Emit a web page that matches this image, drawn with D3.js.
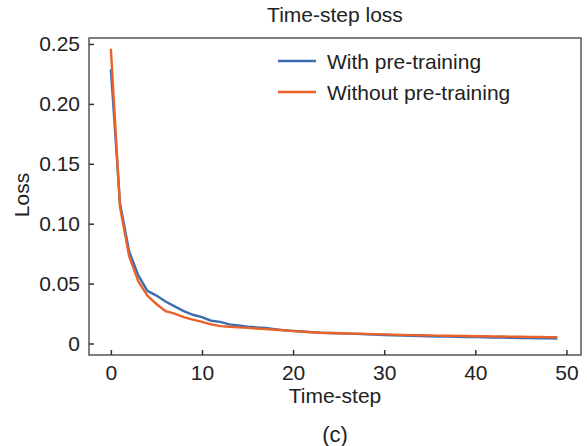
<!DOCTYPE html>
<html>
<head>
<meta charset="utf-8">
<script src="https://cdn.jsdelivr.net/npm/d3@7"></script>
<style>
  body { margin: 0; background: #fff; }
  text { font-family: "Liberation Sans", Arial, sans-serif; fill: #222; }
</style>
</head>
<body>
<div id="chart"></div>
<script>
// time-step loss values
const steps = d3.range(0, 50);
const withPre = [0.229, 0.117, 0.077, 0.057, 0.044, 0.040, 0.035, 0.031, 0.027, 0.024,
  0.022, 0.019, 0.018, 0.016, 0.015, 0.014, 0.0135, 0.013, 0.012, 0.011,
  0.0105, 0.010, 0.0095, 0.009, 0.0088, 0.0085, 0.0082, 0.008, 0.0077, 0.0074,
  0.0071, 0.0069, 0.0067, 0.0065, 0.0063, 0.0061, 0.0059, 0.0057, 0.0056, 0.0054,
  0.0053, 0.0051, 0.005, 0.0049, 0.0047, 0.0046, 0.0045, 0.0044, 0.0043, 0.0042];
const withoutPre = [0.246, 0.114, 0.073, 0.052, 0.040, 0.033, 0.027, 0.025, 0.022, 0.020,
  0.018, 0.016, 0.0145, 0.014, 0.0135, 0.013, 0.0125, 0.012, 0.0115, 0.011,
  0.0103, 0.0098, 0.0094, 0.009, 0.0088, 0.0086, 0.0084, 0.0082, 0.008, 0.0078,
  0.0076, 0.0074, 0.0072, 0.007, 0.0069, 0.0068, 0.0066, 0.0065, 0.0064, 0.0062,
  0.0061, 0.006, 0.0059, 0.0058, 0.0057, 0.0056, 0.0055, 0.0054, 0.0053, 0.0052];
const xTicks = [0, 10, 20, 30, 40, 50];
const yTicks = [0, 0.05, 0.10, 0.15, 0.20, 0.25];
const yTickLabels = ["0", "0.05", "0.10", "0.15", "0.20", "0.25"];
const seriesNames = ["With pre-training", "Without pre-training"];
const seriesColors = ["#3c6db2", "#ea6228"];

const width = 587, height = 446;
const margin = {top: 38, right: 6, bottom: 91, left: 89};

const svg = d3.select("#chart").append("svg")
  .attr("width", width)
  .attr("height", height);

const x = d3.scaleLinear()
  .domain([-2.4, 51.6])
  .range([margin.left, width - margin.right]);

const y = d3.scaleLinear()
  .domain([-0.0096, 0.255])
  .range([height - margin.bottom, margin.top]);

// frame
svg.append("rect")
  .attr("x", margin.left)
  .attr("y", margin.top)
  .attr("width", width - margin.left - margin.right)
  .attr("height", height - margin.top - margin.bottom)
  .attr("fill", "none")
  .attr("stroke", "#555")
  .attr("stroke-width", 1.5);

// x axis, ticks pointing in
const xAxis = svg.append("g")
  .attr("transform", `translate(0,${height - margin.bottom})`)
  .call(d3.axisBottom(x).tickValues(xTicks).tickSizeInner(-5).tickSizeOuter(0).tickPadding(10));
xAxis.select(".domain").remove();
xAxis.selectAll("line").attr("stroke", "#333").attr("stroke-width", 1.5);
xAxis.selectAll("text").style("font-size", "21px").attr("fill", "#222")
  .attr("font-family", "Liberation Sans, Arial, sans-serif");

// y axis
const yAxis = svg.append("g")
  .attr("transform", `translate(${margin.left},0)`)
  .call(d3.axisLeft(y).tickValues(yTicks).tickSizeInner(-5).tickSizeOuter(0).tickPadding(9)
    .tickFormat((d, i) => yTickLabels[i]));
yAxis.select(".domain").remove();
yAxis.selectAll("line").attr("stroke", "#333").attr("stroke-width", 1.5);
yAxis.selectAll("text").style("font-size", "21px").attr("fill", "#222")
  .attr("font-family", "Liberation Sans, Arial, sans-serif");

// lines
const line = d3.line()
  .x((d, i) => x(steps[i]))
  .y(d => y(d));

[withPre, withoutPre].forEach((s, k) => {
  svg.append("path")
    .datum(s)
    .attr("fill", "none")
    .attr("stroke", seriesColors[k])
    .attr("stroke-width", 2.4)
    .attr("d", line);
});

// legend
const legend = svg.append("g").attr("transform", "translate(278,61)");
seriesNames.forEach((name, k) => {
  legend.append("line")
    .attr("x1", 0).attr("x2", 38)
    .attr("y1", k * 31).attr("y2", k * 31)
    .attr("stroke", seriesColors[k])
    .attr("stroke-width", 2.4);
  legend.append("text")
    .attr("x", 49).attr("y", k * 31 + 7.5)
    .style("font-size", "21px")
    .text(name);
});

// titles
svg.append("text")
  .attr("x", 335).attr("y", 22)
  .attr("text-anchor", "middle")
  .style("font-size", "21px")
  .text("Time-step loss");

svg.append("text")
  .attr("x", 335).attr("y", 403)
  .attr("text-anchor", "middle")
  .style("font-size", "21px")
  .text("Time-step");

svg.append("text")
  .attr("transform", "translate(29,195) rotate(-90)")
  .attr("text-anchor", "middle")
  .style("font-size", "21px")
  .text("Loss");

svg.append("text")
  .attr("x", 335).attr("y", 442)
  .attr("text-anchor", "middle")
  .style("font-size", "22px")
  .text("(c)");
</script>
</body>
</html>
